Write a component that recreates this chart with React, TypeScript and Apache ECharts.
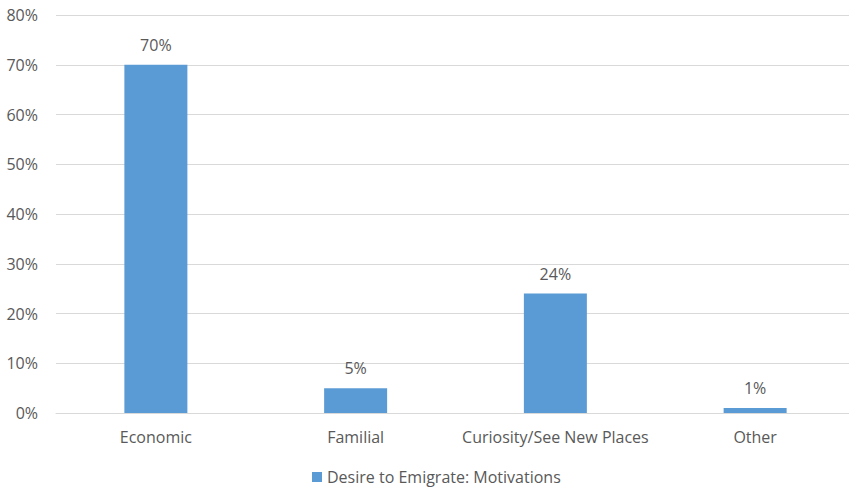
import React, { useEffect, useRef } from "react";
import * as echarts from "echarts";

const categories = ["Economic", "Familial", "Curiosity/See New Places", "Other"];
const values = [70, 5, 24, 1];
const seriesName = "Desire to Emigrate: Motivations";
const yMax = 80;
const yInterval = 10;

export default function App() {
  const ref = useRef<HTMLDivElement>(null);
  useEffect(() => {
    if (!ref.current) return;
    const chart = echarts.init(ref.current, undefined, { renderer: "svg" });
    const textColor = "#595959";
    const font = "'Open Sans', Lato, sans-serif";
    const fs = 16;
    chart.setOption({
      animation: false,
      textStyle: { fontFamily: font },
      grid: { left: 56, right: 0, top: 15, bottom: 77, containLabel: false },
      legend: {
        data: [seriesName],
        left: 312,
        top: 469,
        padding: 0,
        itemWidth: 10,
        itemHeight: 10,
        itemGap: 5,
        icon: "rect",
        textStyle: { color: textColor, fontSize: fs, fontFamily: font },
      },
      xAxis: {
        type: "category",
        data: categories,
        axisLine: { lineStyle: { color: "#d9d9d9", width: 1 } },
        axisTick: { show: false },
        axisLabel: { color: textColor, fontSize: fs, margin: 16, fontFamily: font, interval: 0 },
      },
      yAxis: {
        type: "value",
        min: 0,
        max: yMax,
        interval: yInterval,
        axisLine: { show: false },
        axisTick: { show: false },
        splitLine: { lineStyle: { color: "#d9d9d9", width: 1 } },
        axisLabel: {
          color: textColor,
          fontSize: fs,
          margin: 18,
          fontFamily: font,
          formatter: (v: number) => `${v}%`,
        },
      },
      series: [
        {
          name: seriesName,
          type: "bar",
          data: values,
          barWidth: 63,
          itemStyle: { color: "#5b9bd5" },
          label: {
            show: true,
            position: "top",
            distance: 12,
            color: textColor,
            fontSize: fs,
            fontFamily: font,
            formatter: (p: any) => `${p.value}%`,
          },
        },
      ],
    });
    return () => chart.dispose();
  }, []);
  return (
    <div
      ref={ref}
      style={{ position: "fixed", left: 0, top: 0, width: 855, height: 490, background: "#fff" }}
    />
  );
}
